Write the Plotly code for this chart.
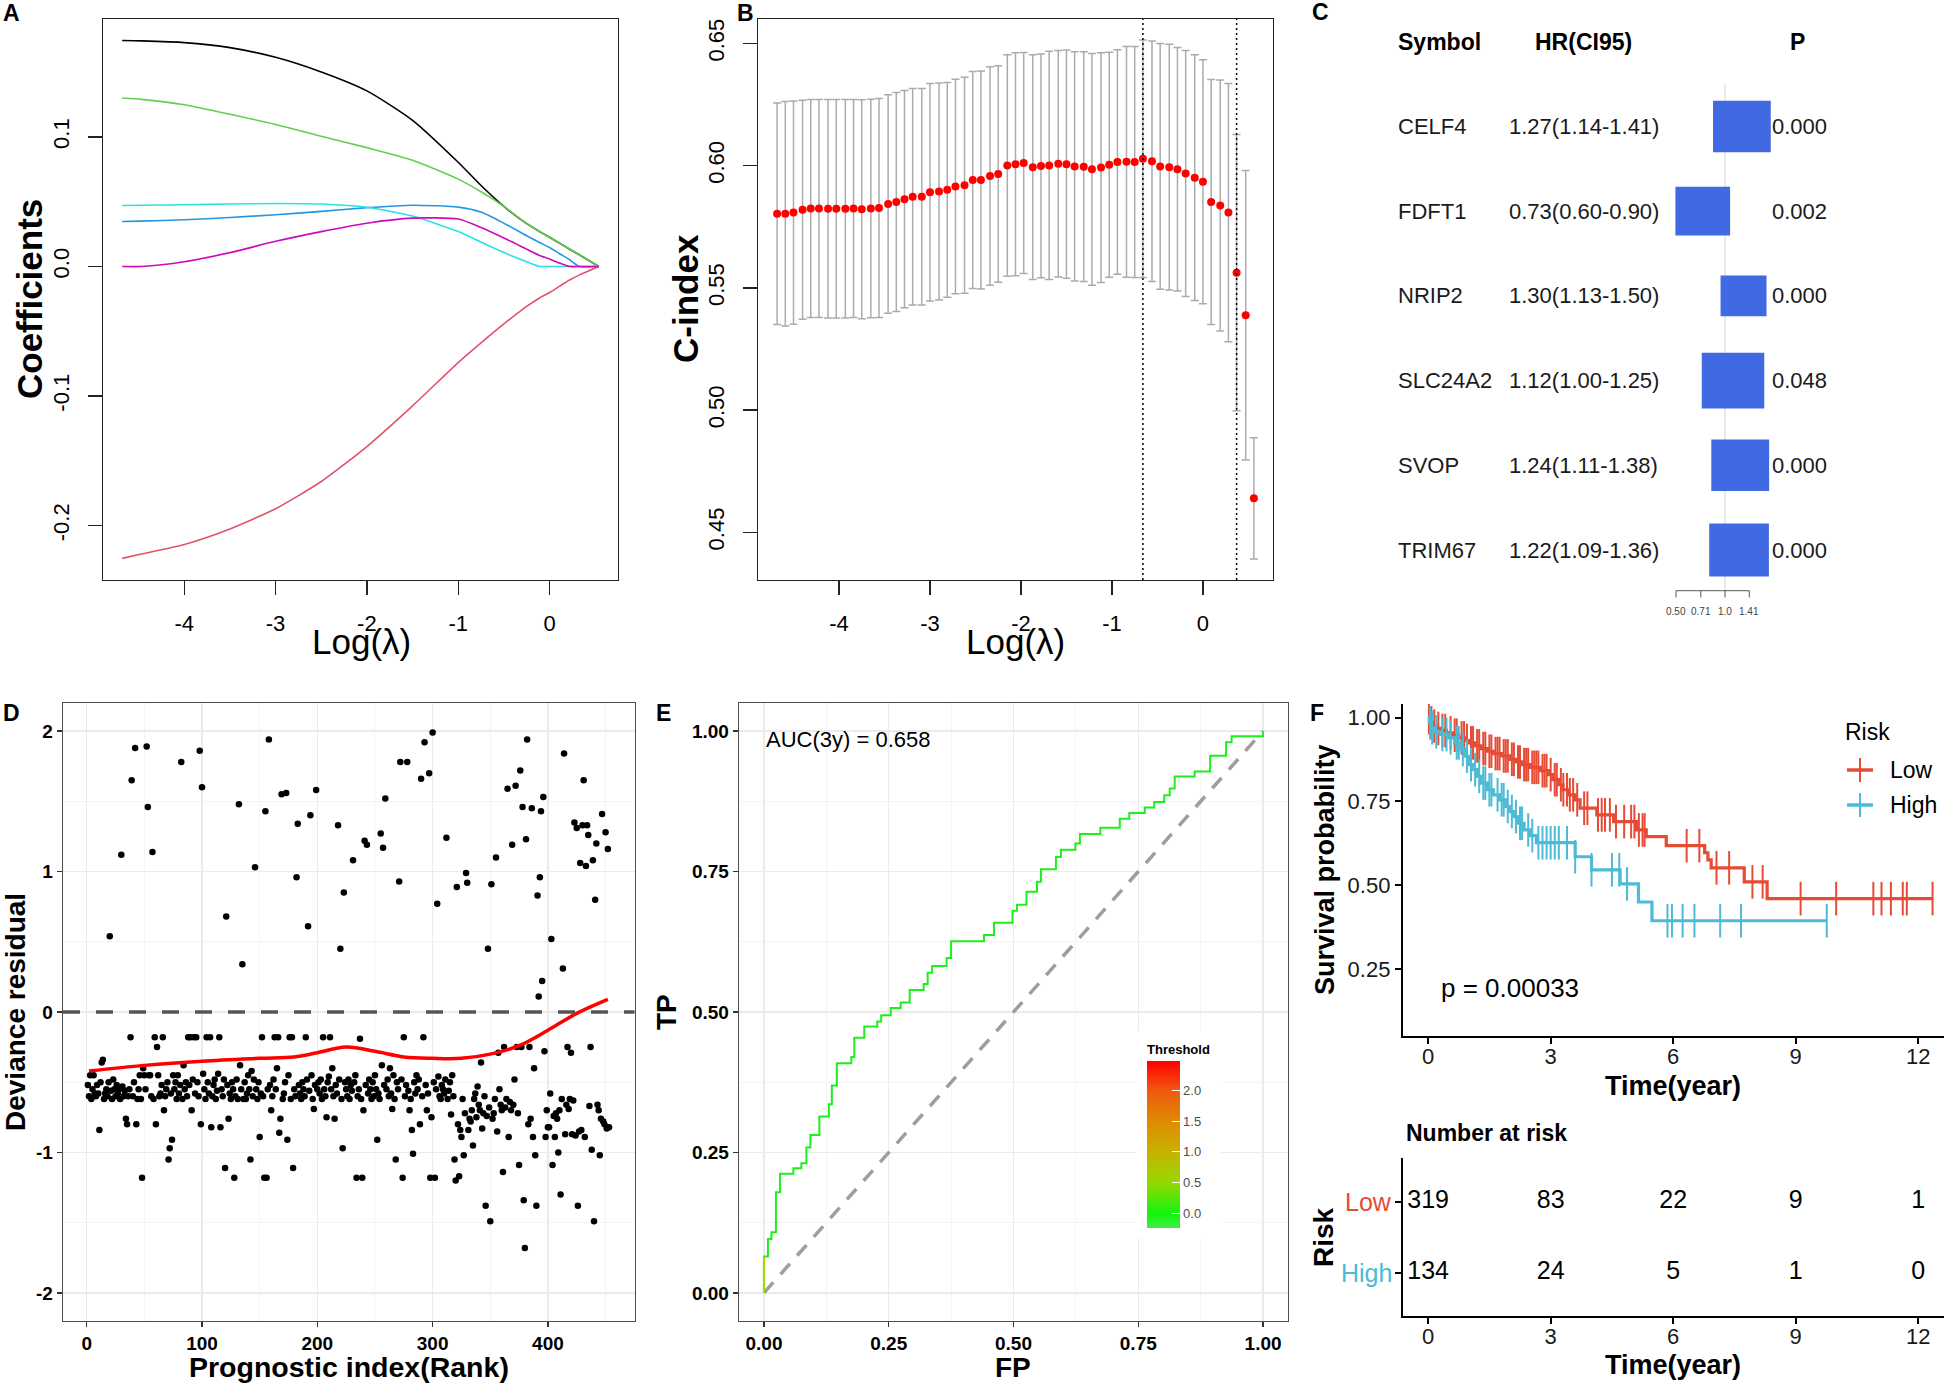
import numpy as np
import plotly.graph_objects as go

W, H = 1944, 1384
FONT = "Liberation Sans, Arial, Helvetica, sans-serif"

# ---------------- A: LASSO coefficient paths ----------------
path_loglambda = [-4.68, -4.47, -4.0, -3.5, -3.0, -2.5, -2.0, -1.5, -1.0, -0.75, -0.5, -0.25, -0.11, 0.0, 0.11, 0.22, 0.33, 0.54]
coef_CELF4 = [0.1744, 0.1741, 0.1728, 0.1689, 0.1614, 0.1501, 0.1355, 0.1128, 0.0804, 0.0625, 0.0464, 0.0330, 0.0270, 0.0225, 0.0180, 0.0133, 0.0088, 0.0]
coef_FDFT1 = [-0.2253, -0.2220, -0.2146, -0.2026, -0.1870, -0.1660, -0.1390, -0.1076, -0.0742, -0.0590, -0.0444, -0.0308, -0.0243, -0.0201, -0.0152, -0.0104, -0.0065, 0.0]
coef_NRIP2 = [0.1300, 0.1290, 0.1248, 0.1175, 0.1096, 0.1005, 0.0917, 0.0820, 0.0674, 0.0577, 0.0464, 0.0330, 0.0270, 0.0225, 0.0180, 0.0133, 0.0088, 0.0]
coef_SLC24A2 = [0.0347, 0.0350, 0.0360, 0.0378, 0.0399, 0.0425, 0.0454, 0.0473, 0.0458, 0.0420, 0.0334, 0.0237, 0.0185, 0.0146, 0.0098, 0.0052, 0.0, 0.0]
coef_SVOP = [0.0470, 0.0472, 0.0476, 0.0482, 0.0486, 0.0482, 0.0457, 0.0389, 0.0269, 0.0188, 0.0107, 0.0036, 0.0, 0.0, 0.0, 0.0, 0.0, 0.0]
coef_TRIM67 = [0.0, 0.0, 0.0036, 0.0107, 0.0194, 0.0269, 0.0334, 0.0373, 0.0366, 0.0301, 0.0220, 0.0133, 0.0085, 0.0058, 0.0026, 0.0, 0.0, 0.0]

# ---------------- B: cross-validated C-index ----------------
cv_loglambda = [-4.68, -4.59, -4.50, -4.40, -4.31, -4.22, -4.12, -4.03, -3.93, -3.84,
                -3.75, -3.65, -3.56, -3.46, -3.37, -3.28, -3.19, -3.09, -3.00, -2.90,
                -2.81, -2.72, -2.62, -2.53, -2.44, -2.34, -2.25, -2.15, -2.06, -1.97,
                -1.87, -1.78, -1.69, -1.59, -1.50, -1.41, -1.31, -1.22, -1.12, -1.03,
                -0.94, -0.84, -0.75, -0.66, -0.56, -0.47, -0.37, -0.28, -0.19, -0.09,
                0.00, 0.09, 0.19, 0.28, 0.37, 0.47, 0.56]
cv_cindex = [0.5803, 0.5803, 0.5808, 0.5820, 0.5825, 0.5825, 0.5824, 0.5824, 0.5824, 0.5825,
             0.5822, 0.5825, 0.5827, 0.5843, 0.5851, 0.5863, 0.5873, 0.5873, 0.5891, 0.5894,
             0.5901, 0.5915, 0.5920, 0.5941, 0.5941, 0.5958, 0.5966, 0.6001, 0.6006, 0.6011,
             0.5994, 0.5999, 0.6001, 0.6008, 0.6006, 0.5997, 0.5996, 0.5985, 0.5992, 0.6004,
             0.6015, 0.6016, 0.6015, 0.6028, 0.6018, 0.5997, 0.5994, 0.5985, 0.5968, 0.5951,
             0.5934, 0.5851, 0.5837, 0.5808, 0.5562, 0.5388, 0.4639]
cv_se = [0.0453, 0.0459, 0.0457, 0.0448, 0.0446, 0.0446, 0.0447, 0.0447, 0.0447, 0.0446,
         0.0448, 0.0447, 0.0448, 0.0447, 0.0448, 0.0444, 0.0443, 0.0443, 0.0445, 0.0444,
         0.0439, 0.0439, 0.0442, 0.0444, 0.0446, 0.0447, 0.0443, 0.0453, 0.0456, 0.0452,
         0.0460, 0.0458, 0.0467, 0.0463, 0.0467, 0.0469, 0.0470, 0.0474, 0.0470, 0.0460,
         0.0459, 0.0472, 0.0473, 0.0486, 0.0492, 0.0503, 0.0503, 0.0498, 0.0503, 0.0503,
         0.0499, 0.0501, 0.0513, 0.0528, 0.0565, 0.0592, 0.0248]
lambda_min = -0.66
lambda_1se = 0.37

# ---------------- C: univariate Cox table ----------------
forest_symbol = ["CELF4", "FDFT1", "NRIP2", "SLC24A2", "SVOP", "TRIM67"]
forest_hr = [1.27, 0.73, 1.30, 1.12, 1.24, 1.22]
forest_lo = [1.14, 0.60, 1.13, 1.00, 1.11, 1.09]
forest_hi = [1.41, 0.90, 1.50, 1.25, 1.38, 1.36]
forest_p = ["0.000", "0.002", "0.000", "0.048", "0.000", "0.000"]
forest_ticks = [0.50, 0.71, 1.0, 1.41]
forest_ticktext = ["0.50", "0.71", "1.0", "1.41"]

# ---------------- D: deviance residuals by rank ----------------
dev_resid = [
    -0.52, -0.60, -0.45, -0.62, -0.55, -0.45, -0.58, -0.60, -0.52, -0.58,
    -0.84, -0.50, -0.36, -0.34, -0.62, -0.58, -0.55, -0.60, -0.50, 0.54,
    -0.56, -0.62, -0.48, -0.55, -0.60, -0.52, -0.58, -0.55, -0.62, 1.12,
    -0.53, -0.60, -0.56, -0.76, -0.80, -0.60, -0.55, -0.18, 1.65, -0.60,
    -0.50, 1.88, -0.80, -0.62, -0.55, -0.45, -0.62, -1.18, -0.40, -0.45,
    -0.55, 1.89, 1.46, -0.45, -0.45, -0.60, 1.14, -0.62, -0.18, -0.80,
    -0.25, -0.45, -0.60, -0.58, -0.52, -0.18, -0.70, -0.60, -0.55, -0.50,
    -1.05, -0.97, -0.58, -0.91, -0.45, -0.55, -0.50, -0.62, -0.45, -0.58,
    -0.52, 1.78, -0.62, -0.38, -0.55, -0.50, -0.60, -0.18, -0.52, -0.18,
    -0.70, -0.48, -0.18, -0.58, -0.18, -0.50, -0.60, 1.86, -0.80, 1.60,
    -0.44, -0.55, -0.62, -0.18, -0.50, -0.58, -0.18, -0.82, -0.60, -0.52,
    -0.48, -0.62, -0.56, -0.44, -0.18, -0.82, -0.55, -0.60, -0.48, -1.11,
    0.68, -0.52, -0.76, -0.58, -0.62, -0.50, -0.55, -1.18, -0.60, -0.48,
    -0.62, 1.48, -0.38, -0.55, 0.34, -0.62, -0.50, -0.62, -0.58, -0.45,
    -0.55, -1.05, -0.42, -0.60, -0.48, 1.03, -0.55, -0.62, -0.50, -0.89,
    -0.58, -0.18, -0.60, -1.18, 1.43, -1.18, -0.55, 1.94, -0.52, -0.70,
    -0.60, -0.48, -0.18, -0.55, -0.40, -0.18, -0.86, -0.76, 1.55, -0.62,
    -0.58, -0.50, 1.56, -0.91, -0.45, -0.18, -0.62, -0.18, -1.11, -0.55,
    -0.60, 0.96, 1.34, -0.52, -0.58, -0.62, -0.50, -0.55, -0.60, -0.18,
    -0.48, 0.61, -0.56, 1.40, -0.45, -0.62, -0.69, -0.52, 1.58, -0.55,
    -0.50, -0.58, -0.48, -0.62, -0.18, -0.55, -0.60, -0.75, -0.50, -0.46,
    -0.18, -0.55, -0.40, -0.60, -0.76, -0.52, -0.58, 1.33, -0.48, 0.45,
    -0.62, -0.97, 0.85, -0.50, -0.55, -0.60, -0.48, -0.62, -0.52, -0.56,
    1.08, -0.50, -0.45, -1.18, -0.60, -0.55, -0.19, -0.62, -1.18, -0.70,
    1.22, -0.52, 1.19, -0.58, -0.48, -0.55, -0.62, -0.50, -0.60, -0.45,
    -0.55, -0.91, -0.58, -0.62, 1.27, -0.38, 1.17, -0.52, 1.52, -0.55,
    -0.48, -0.60, -0.40, -0.58, -0.69, -0.45, -0.62, -1.05, -0.50, -0.55,
    0.93, 1.78, -0.48, -1.18, -0.18, -0.60, -0.52, 1.78, -0.56, -0.70,
    -0.62, -0.84, -1.01, -0.50, -0.58, -0.45, -0.55, -0.48, -0.80, 1.66,
    -0.60, -0.18, 1.92, -0.52, -0.70, -0.58, 1.70, -1.18, -0.75, 1.99,
    -0.50, -1.18, -0.55, 0.77, -0.46, -0.60, -0.62, -0.52, -0.55, -0.58,
    -0.48, 1.24, -0.62, -0.56, -0.50, -0.73, -0.45, -0.60, -1.05, -1.20,
    0.89, -0.80, -1.17, -0.84, -0.89, -0.62, -1.02, -0.72, 0.99, 0.92,
    -0.84, -0.76, -0.78, -0.70, -0.95, -0.62, -0.58, -0.75, -0.53, -0.66,
    -0.70, -0.36, -0.83, -0.72, -0.60, -1.38, -0.74, 0.45, -0.68, -1.49,
    0.91, -0.76, -0.72, -0.62, 1.10, -0.85, -0.29, -0.55, -0.66, -0.70,
    -1.14, -0.25, -0.68, -0.62, 1.59, -0.89, -0.64, -0.70, 1.19, -0.66,
    -0.48, 1.61, -0.25, -0.72, -1.09, 1.72, -0.25, 1.46, -1.34, -1.68,
    1.23, 1.94, -0.80, -0.25, -0.76, 1.45, -0.89, -0.40, -1.02, -1.38,
    0.83, 0.11, 0.96, 1.43, 0.22, 1.53, -0.28, -0.89, -0.70, -0.82,
    -0.82, -0.58, 0.52, -1.09, -0.74, -0.89, -0.72, -0.76, -1.00, -0.70,
    -1.30, -0.62, 0.31, 1.84, -0.87, -0.66, -0.25, -0.69, -0.62, -0.29,
    -0.87, -0.63, 1.35, -0.88, 1.31, -1.38, -0.85, 1.06, -0.84, 1.33,
    1.65, -0.89, 1.04, 1.33, 1.26, -0.67, -0.25, -0.98, 1.08, -1.49,
    0.80, 1.20, -0.66, -0.70, -1.02, -0.76, 1.41, -0.78, -0.80, 1.28,
    -0.83, 1.16, -0.82]
dev_rank = list(range(1, len(dev_resid) + 1))
loess_rank = [2, 50, 100, 150, 180, 200, 225, 250, 275, 300, 325, 350, 375, 400, 425, 452]
loess_val = [-0.42, -0.38, -0.35, -0.33, -0.32, -0.29, -0.25, -0.28, -0.32, -0.33, -0.33, -0.30, -0.24, -0.13, -0.01, 0.09]

# ---------------- E: time-dependent ROC (3 years) ----------------
roc_fp = [0.0, 0.0, 0.008, 0.015, 0.024, 0.032, 0.059, 0.075, 0.085, 0.093, 0.111, 0.130, 0.136, 0.146,
          0.175, 0.181, 0.201, 0.227, 0.235, 0.254, 0.274, 0.292, 0.320, 0.328, 0.337, 0.366, 0.375,
          0.441, 0.461, 0.498, 0.507, 0.526, 0.547, 0.555, 0.585, 0.595, 0.624, 0.633, 0.674, 0.713,
          0.732, 0.763, 0.782, 0.802, 0.813, 0.823, 0.863, 0.894, 0.926, 0.937, 1.0]
roc_tp = [0.0, 0.065, 0.096, 0.108, 0.179, 0.212, 0.222, 0.231, 0.259, 0.281, 0.314, 0.336, 0.369, 0.409,
          0.420, 0.454, 0.474, 0.483, 0.494, 0.507, 0.517, 0.539, 0.550, 0.570, 0.582, 0.596, 0.626,
          0.637, 0.659, 0.680, 0.691, 0.714, 0.732, 0.754, 0.776, 0.789, 0.800, 0.817, 0.828, 0.844,
          0.854, 0.864, 0.874, 0.886, 0.898, 0.919, 0.928, 0.956, 0.980, 0.991, 1.0]
roc_auc_text = "AUC(3y) = 0.658"
ref_diag = [0.0, 1.0]
threshold_ticks = [0.0, 0.5, 1.0, 1.5, 2.0]
threshold_min, threshold_max = -0.23, 2.47

# ---------------- F: Kaplan-Meier by risk group ----------------
km_low_time = [0, 0.05, 0.12, 0.2, 0.3, 0.45, 0.6, 0.75, 0.9, 1.0, 1.15, 1.3, 1.45, 1.6, 1.8, 2.0, 2.15,
               2.3, 2.5, 2.75, 2.95, 3.05, 3.2, 3.3, 3.45, 3.6, 3.72, 4.13, 4.54, 5.1, 5.34, 5.83, 6.77,
               6.85, 6.93, 7.74, 8.3, 12.35]
km_low_surv = [1.0, 0.985, 0.975, 0.968, 0.962, 0.955, 0.948, 0.94, 0.932, 0.925, 0.916, 0.908, 0.9,
               0.893, 0.886, 0.876, 0.868, 0.86, 0.852, 0.842, 0.83, 0.815, 0.8, 0.785, 0.77, 0.755,
               0.73, 0.71, 0.69, 0.665, 0.645, 0.618, 0.597, 0.576, 0.552, 0.51, 0.46, 0.46]
km_high_time = [0, 0.03, 0.08, 0.15, 0.3, 0.5, 0.65, 0.8, 0.9, 1.0, 1.1, 1.2, 1.3, 1.45, 1.6, 1.75, 1.9,
                2.0, 2.1, 2.2, 2.35, 2.5, 2.65, 3.6, 4.0, 4.7, 5.15, 5.48, 9.76]
km_high_surv = [1.0, 0.985, 0.97, 0.958, 0.95, 0.94, 0.925, 0.905, 0.885, 0.86, 0.845, 0.825, 0.805,
                0.785, 0.77, 0.755, 0.735, 0.72, 0.705, 0.685, 0.665, 0.648, 0.627, 0.585, 0.546,
                0.504, 0.45, 0.394, 0.394]
censor_low = [0.02, 0.08, 0.15, 0.25, 0.35, 0.42, 0.55, 0.65, 0.7, 0.82, 0.88, 0.95, 1.05, 1.1, 1.2,
              1.25, 1.35, 1.4, 1.5, 1.55, 1.65, 1.7, 1.75, 1.85, 1.9, 1.95, 2.05, 2.1, 2.2, 2.25, 2.35,
              2.4, 2.45, 2.55, 2.6, 2.65, 2.7, 2.8, 2.85, 2.9, 3.0, 3.1, 3.15, 3.25, 3.31, 3.4, 3.47,
              3.55, 3.65, 3.82, 3.9, 4.16, 4.25, 4.33, 4.45, 4.6, 4.8, 4.97, 5.05, 5.16, 5.25, 5.3,
              6.33, 6.64, 7.06, 7.37, 7.94, 8.19, 9.12, 9.99, 10.9, 11.1, 11.33, 11.62, 11.72, 12.35]
censor_high = [0.05, 0.1, 0.2, 0.35, 0.45, 0.55, 0.7, 0.75, 0.85, 0.95, 1.05, 1.15, 1.25, 1.35, 1.4,
               1.5, 1.55, 1.7, 1.8, 1.85, 1.95, 2.05, 2.15, 2.25, 2.3, 2.45, 2.55, 2.7, 2.8, 2.9, 3.0,
               3.1, 3.2, 3.4, 3.6, 4.0, 4.5, 4.68, 4.87, 5.86, 5.97, 6.23, 6.52, 7.15, 7.66, 9.76]
km_pvalue_text = "p = 0.00033"
risk_times = [0, 3, 6, 9, 12]
risk_low = [319, 83, 22, 9, 1]
risk_high = [134, 24, 5, 1, 0]

COL_LOW = "#E64B35"
COL_HIGH = "#4DBBD5"


def dx(l, r):
    return [l / W, r / W]


def dy(t, b):
    return [1 - b / H, 1 - t / H]


def step_value(times, surv, t):
    i = int(np.searchsorted(np.array(times), t, side="right")) - 1
    return surv[max(i, 0)]


fig = go.Figure()

# ---- A
genes_A = [("CELF4", coef_CELF4, "#000000"), ("FDFT1", coef_FDFT1, "#DF536B"),
           ("NRIP2", coef_NRIP2, "#61D04F"), ("SLC24A2", coef_SLC24A2, "#2297E6"),
           ("SVOP", coef_SVOP, "#28E2E5"), ("TRIM67", coef_TRIM67, "#CD0BBC")]
for name, vals, col in genes_A:
    fig.add_trace(go.Scatter(x=path_loglambda, y=vals, mode="lines", name=name,
                             line=dict(color=col, width=1.6, shape="spline", smoothing=0.6),
                             xaxis="x", yaxis="y", hoverinfo="skip"))

# ---- B
fig.add_trace(go.Scatter(x=cv_loglambda, y=cv_cindex, mode="markers",
                         marker=dict(color="#FF0000", size=8),
                         error_y=dict(type="data", array=cv_se, color="#ABABAB", thickness=1.5, width=4),
                         xaxis="x2", yaxis="y2", hoverinfo="skip"))

# ---- D
fig.add_trace(go.Scatter(x=dev_rank, y=dev_resid, mode="markers",
                         marker=dict(color="black", size=6.5),
                         xaxis="x4", yaxis="y4", hoverinfo="skip"))
fig.add_trace(go.Scatter(x=loess_rank, y=loess_val, mode="lines",
                         line=dict(color="#FF0000", width=3.5, shape="spline", smoothing=1.0),
                         xaxis="x4", yaxis="y4", hoverinfo="skip"))

# ---- E
fig.add_trace(go.Scatter(x=ref_diag, y=ref_diag, mode="lines",
                         line=dict(color="#9E9E9E", width=3.5, dash="14px,11px"),
                         xaxis="x5", yaxis="y5", hoverinfo="skip"))
fig.add_trace(go.Scatter(x=roc_fp, y=roc_tp, mode="lines",
                         line=dict(color="#1CF01C", width=2, shape="hv"),
                         xaxis="x5", yaxis="y5", hoverinfo="skip"))
fig.add_trace(go.Scatter(x=roc_fp[:2], y=roc_tp[:2], mode="lines",
                         line=dict(color="#A8D400", width=2),
                         xaxis="x5", yaxis="y5", hoverinfo="skip"))
cscale = [[0.0, "#45EB45"], [0.085, "#10F510"], [0.27, "#97D800"], [0.455, "#C6B200"],
          [0.64, "#DF8A00"], [0.82, "#F05A10"], [1.0, "#FF0000"]]
threshold_bar = dict(
    title=dict(text="<b>Threshold</b>", side="top", font=dict(size=13, color="black", family=FONT)),
    thicknessmode="pixels", thickness=33,
    lenmode="pixels", len=207,
    x=1136 / W, xanchor="left", xpad=11,
    y=1 - 1031 / H, yanchor="top", ypad=10,
    tickvals=threshold_ticks,
    ticktext=[f"{v:.1f}" for v in threshold_ticks],
    ticks="inside", ticklen=8, tickcolor="white", tickwidth=1,
    tickfont=dict(size=13, color="#4D4D4D", family=FONT),
    outlinewidth=0, bgcolor="white", borderwidth=0)
fig.add_trace(go.Scatter(x=[0.5], y=[0.5], mode="markers", xaxis="x5", yaxis="y5", hoverinfo="skip",
                         marker=dict(size=0.1, opacity=0, color=[1.0], cmin=threshold_min, cmax=threshold_max,
                                     colorscale=cscale, showscale=True, colorbar=threshold_bar)))

# ---- F KM curves
for times, surv, cens, col in [(km_low_time, km_low_surv, censor_low, COL_LOW),
                               (km_high_time, km_high_surv, censor_high, COL_HIGH)]:
    fig.add_trace(go.Scatter(x=times, y=surv, mode="lines", line=dict(color=col, width=3.2, shape="hv"),
                             xaxis="x6", yaxis="y6", hoverinfo="skip"))
    cy = [step_value(times, surv, t) for t in cens]
    fig.add_trace(go.Scatter(x=cens, y=cy, mode="markers",
                             marker=dict(symbol="line-ns", size=24, line=dict(color=col, width=2)),
                             xaxis="x6", yaxis="y6", hoverinfo="skip"))

# ---- risk table
fig.add_trace(go.Scatter(x=risk_times + risk_times, y=[2] * len(risk_times) + [1] * len(risk_times),
                         mode="text", text=[str(v) for v in risk_low + risk_high],
                         textfont=dict(size=25, color="black", family=FONT),
                         xaxis="x7", yaxis="y7", hoverinfo="skip"))

# ---------------- axes ----------------
base_R = dict(ticks="outside", ticklen=14, tickwidth=1.3, tickcolor="#222", showline=True, linecolor="#222",
              linewidth=1.3, mirror=True, showgrid=False, zeroline=False,
              tickfont=dict(size=22, color="black", family=FONT))
layout_axes = {}
layout_axes["xaxis"] = dict(base_R, domain=dx(103, 618), range=[-4.89, 0.75], tickvals=[-4, -3, -2, -1, 0],
                            ticktext=["-4", "-3", "-2", "-1", "0"], anchor="y", ticklabelstandoff=9)
layout_axes["yaxis"] = dict(base_R, domain=dy(19, 580), range=[-0.242, 0.191], tickvals=[-0.2, -0.1, 0.0, 0.1],
                            ticktext=["-0.2", "-0.1", "0.0", "0.1"], tickangle=-90, anchor="x",
                            ticklabelstandoff=10)
layout_axes["xaxis2"] = dict(base_R, domain=dx(758, 1273), range=[-4.89, 0.77], tickvals=[-4, -3, -2, -1, 0],
                             ticktext=["-4", "-3", "-2", "-1", "0"], anchor="y2", ticklabelstandoff=9)
layout_axes["yaxis2"] = dict(base_R, domain=dy(19, 580), range=[0.4305, 0.66],
                             tickvals=[0.45, 0.50, 0.55, 0.60, 0.65],
                             ticktext=["0.45", "0.50", "0.55", "0.60", "0.65"], tickangle=-90, anchor="x2",
                             ticklabelstandoff=10)
# C (forest) axes: log2(HR) horizontally, row index vertically
layout_axes["xaxis3"] = dict(domain=dx(1600, 1860), range=[-2.551, 2.755], visible=False, anchor="y3")
layout_axes["yaxis3"] = dict(domain=dy(40, 620), range=[6.826, -0.021], visible=False, anchor="x3")

gg_axis = dict(ticks="outside", ticklen=5, tickwidth=1.2, tickcolor="#333333", showline=True,
               linecolor="#4D4D4D", linewidth=1.3, mirror=True, showgrid=True, gridcolor="#EBEBEB",
               gridwidth=1.3, zeroline=False,
               tickfont=dict(size=19, color="black", family=FONT, weight="bold"))
layout_axes["xaxis4"] = dict(gg_axis, domain=dx(63, 634.5), range=[-20.56, 475.1],
                             tickvals=[0, 100, 200, 300, 400],
                             minor=dict(tickmode="linear", tick0=0, dtick=50, showgrid=True,
                                        gridcolor="#F4F4F4", gridwidth=1, ticks=""),
                             anchor="y4")
layout_axes["yaxis4"] = dict(gg_axis, domain=dy(703, 1321), range=[-2.2, 2.2], tickvals=[-2, -1, 0, 1, 2],
                             ticktext=["-2", "-1", "0", "1", "2"],
                             minor=dict(tickmode="linear", tick0=0, dtick=0.5, showgrid=True,
                                        gridcolor="#F4F4F4", gridwidth=1, ticks=""),
                             anchor="x4")
layout_axes["xaxis5"] = dict(gg_axis, domain=dx(739, 1288), range=[-0.05, 1.05],
                             tickvals=[0, 0.25, 0.5, 0.75, 1.0], ticktext=["0.00", "0.25", "0.50", "0.75", "1.00"],
                             minor=dict(tickmode="linear", tick0=0, dtick=0.125, showgrid=True,
                                        gridcolor="#F4F4F4", gridwidth=1, ticks=""),
                             anchor="y5")
layout_axes["yaxis5"] = dict(gg_axis, domain=dy(703, 1321), range=[-0.05, 1.05],
                             tickvals=[0, 0.25, 0.5, 0.75, 1.0], ticktext=["0.00", "0.25", "0.50", "0.75", "1.00"],
                             minor=dict(tickmode="linear", tick0=0, dtick=0.125, showgrid=True,
                                        gridcolor="#F4F4F4", gridwidth=1, ticks=""),
                             anchor="x5")
km_axis = dict(ticks="outside", ticklen=6, tickwidth=2, tickcolor="black", showline=True, linecolor="black",
               linewidth=2.2, mirror=False, showgrid=False, zeroline=False,
               tickfont=dict(size=22, color="#1A1A1A", family=FONT))
layout_axes["xaxis6"] = dict(km_axis, domain=dx(1403, 1944), range=[-0.615, 12.63], tickvals=risk_times,
                             anchor="y6", ticklabelstandoff=-7)
layout_axes["yaxis6"] = dict(km_axis, domain=dy(704, 1036), range=[0.05, 1.041],
                             tickvals=[0.25, 0.5, 0.75, 1.0], ticktext=["0.25", "0.50", "0.75", "1.00"],
                             anchor="x6")
layout_axes["xaxis7"] = dict(km_axis, domain=dx(1403, 1944), range=[-0.615, 12.63], tickvals=risk_times,
                             anchor="y7", ticklabelstandoff=-7)
layout_axes["yaxis7"] = dict(km_axis, domain=dy(1158, 1316), range=[0.394, 2.62], tickvals=[1, 2],
                             ticktext=[" ", " "], anchor="x7")

# ---------------- annotations ----------------
anns = []


def ann(text, x, y, size, bold=False, angle=0, xanchor="center", yanchor="middle", color="black",
        xref="paper", yref="paper"):
    if xref == "paper":
        x = x / W
    if yref == "paper":
        y = 1 - y / H
    anns.append(dict(text=(f"<b>{text}</b>" if bold else text), x=x, y=y, xref=xref, yref=yref,
                     showarrow=False, textangle=angle, xanchor=xanchor, yanchor=yanchor,
                     font=dict(size=size, color=color, family=FONT)))


# panel letters
ann("A", 11, 13, 23, bold=True)
ann("B", 745, 13, 23, bold=True)
ann("C", 1320, 12, 23, bold=True)
ann("D", 11, 713, 23, bold=True)
ann("E", 663, 713, 23, bold=True)
ann("F", 1317, 713, 23, bold=True)

# A / B titles
ann("Coefficients", 29, 299, 35, bold=True, angle=-90)
ann("Log(λ)", 361, 641, 35)
ann("C-index", 685, 299, 35, bold=True, angle=-90)
ann("Log(λ)", 1015, 641, 35)

# C table
ann("Symbol", 1396, 0, 23, bold=True, xanchor="left", yref="y3")
ann("HR(CI95)", 1533, 0, 23, bold=True, xanchor="left", yref="y3")
ann("P", 1797, 0, 23, bold=True, yref="y3")
for i, sym in enumerate(forest_symbol):
    row = i + 1
    ann(sym, 1396, row, 22, xanchor="left", yref="y3", color="#1A1A1A")
    ann(f"{forest_hr[i]:.2f}({forest_lo[i]:.2f}-{forest_hi[i]:.2f})", 1507, row, 22, xanchor="left",
        yref="y3", color="#1A1A1A")
    ann(forest_p[i], 1770, row, 22, xanchor="left", yref="y3", color="#1A1A1A")
for t, tt in zip(forest_ticks, forest_ticktext):
    anns.append(dict(text=tt, x=float(np.log2(t)), y=6.72, xref="x3", yref="y3", showarrow=False,
                     font=dict(size=10, color="#444444", family=FONT)))

# D / E titles
ann("Deviance residual", 15, 1012, 28, bold=True, angle=-90)
ann("Prognostic index(Rank)", 349, 1367, 28.5, bold=True)
ann("TP", 666, 1012, 28, bold=True, angle=-90)
ann("FP", 1013, 1367, 28, bold=True)
anns.append(dict(text=roc_auc_text, x=0.0, y=0.985, xref="x5", yref="y5", xanchor="left", yanchor="middle",
                 showarrow=False, font=dict(size=22, color="black", family=FONT)))

# F titles / legend / p-value
ann("Survival probability", 1325, 870, 27, bold=True, angle=-90)
ann("Time(year)", 1673, 1086, 27, bold=True)
anns.append(dict(text=km_pvalue_text, x=0.27, y=0.194, xref="x6", yref="y6", xanchor="left",
                 yanchor="middle", showarrow=False, font=dict(size=26, color="black", family=FONT)))
ann("Risk", 1843, 732, 23, xanchor="left")
ann("Low", 1888, 770, 23, xanchor="left")
ann("High", 1888, 805, 23, xanchor="left")

# risk table
ann("Number at risk", 1404, 1133, 23, bold=True, xanchor="left")
ann("Low", 1394, 2, 25, xanchor="right", yref="y7", color=COL_LOW)
ann("High", 1394, 1, 25, xanchor="right", yref="y7", color=COL_HIGH)
ann("Risk", 1323, 1237, 28, bold=True, angle=-90)
ann("Time(year)", 1673, 1365, 27, bold=True)

# ---------------- shapes ----------------
shapes = []
# B dotted lambda lines
for lv in [lambda_min, lambda_1se]:
    shapes.append(dict(type="line", xref="x2", yref="y2 domain", x0=lv, x1=lv, y0=0, y1=1,
                       line=dict(color="black", width=1.5, dash="2px,3px")))
# C reference line and boxes
shapes.append(dict(type="line", xref="x3", yref="y3", x0=0, x1=0, y0=0.5, y1=6.48,
                   line=dict(color="#DADADA", width=1.2), layer="below"))
forest_box_halfwidth = [0.589, 0.558, 0.469, 0.638, 0.590, 0.609]  # box size (log2 units), style
for i, hr in enumerate(forest_hr):
    row = i + 1
    c = float(np.log2(hr))
    hw = forest_box_halfwidth[i]
    hh = hw * 0.515
    shapes.append(dict(type="rect", xref="x3", yref="y3", x0=c - hw, x1=c + hw, y0=row - hh, y1=row + hh,
                       fillcolor="#4169E1", line=dict(width=0)))
lt = [float(np.log2(t)) for t in forest_ticks]
shapes.append(dict(type="line", xref="x3", yref="y3", x0=lt[0], x1=lt[-1], y0=6.48, y1=6.48,
                   line=dict(color="#555555", width=1)))
for v in lt:
    shapes.append(dict(type="line", xref="x3", yref="y3", x0=v, x1=v, y0=6.48, y1=6.56,
                       line=dict(color="#555555", width=1)))
# D zero line
shapes.append(dict(type="line", xref="x4 domain", yref="y4", x0=0, x1=1, y0=0, y1=0,
                   line=dict(color="#555555", width=3.5, dash="17px,16px")))
# F legend keys
for yy, col in [(770, COL_LOW), (805, COL_HIGH)]:
    shapes.append(dict(type="line", xref="paper", yref="paper", x0=1847 / W, x1=1873 / W,
                       y0=1 - yy / H, y1=1 - yy / H, line=dict(color=col, width=3.5)))
    shapes.append(dict(type="line", xref="paper", yref="paper", x0=1860 / W, x1=1860 / W,
                       y0=1 - (yy - 12) / H, y1=1 - (yy + 12) / H, line=dict(color=col, width=2)))

fig.update_layout(width=W, height=H, margin=dict(l=0, r=0, t=0, b=0), autosize=False,
                  paper_bgcolor="white", plot_bgcolor="white", showlegend=False,
                  font=dict(family=FONT, color="black"),
                  annotations=anns, shapes=shapes, **layout_axes)

fig.write_html("out.html", config={"displayModeBar": False, "staticPlot": True},
               post_script="document.body.style.margin='0px'; document.body.style.overflow='hidden';")
